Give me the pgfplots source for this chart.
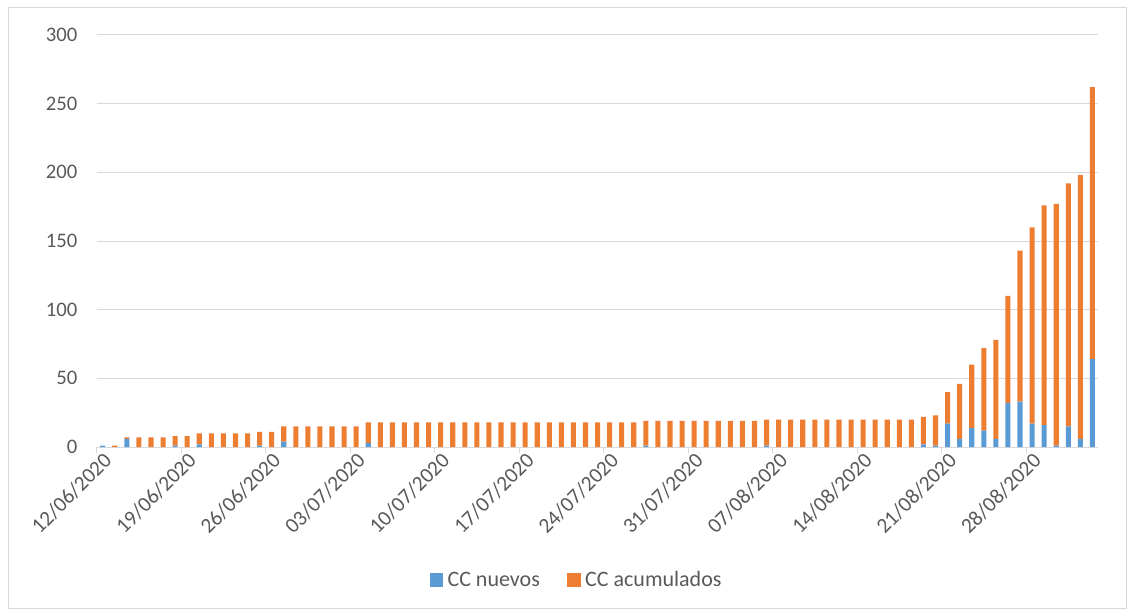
\documentclass[border=0pt]{standalone}
\usepackage{fontspec}
\setmainfont{Carlito}
\usepackage{pgfplots}
\pgfplotsset{compat=1.18}
\usepackage{pgfplotstable}
\definecolor{cblue}{HTML}{5B9BD5}
\definecolor{corange}{HTML}{ED7D31}
\definecolor{cgrid}{HTML}{D9D9D9}
\definecolor{ctext}{HTML}{595959}

\pgfplotstableread{
d n a
0 1 0
1 0 1
2 6 1
3 0 7
4 0 7
5 0 7
6 1 7
7 0 8
8 2 8
9 0 10
10 0 10
11 0 10
12 0 10
13 1 10
14 0 11
15 4 11
16 0 15
17 0 15
18 0 15
19 0 15
20 0 15
21 0 15
22 3 15
23 0 18
24 0 18
25 0 18
26 0 18
27 0 18
28 0 18
29 0 18
30 0 18
31 0 18
32 0 18
33 0 18
34 0 18
35 0 18
36 0 18
37 0 18
38 0 18
39 0 18
40 0 18
41 0 18
42 0 18
43 0 18
44 0 18
45 1 18
46 0 19
47 0 19
48 0 19
49 0 19
50 0 19
51 0 19
52 0 19
53 0 19
54 0 19
55 1 19
56 0 20
57 0 20
58 0 20
59 0 20
60 0 20
61 0 20
62 0 20
63 0 20
64 0 20
65 0 20
66 0 20
67 0 20
68 2 20
69 1 22
70 17 23
71 6 40
72 14 46
73 12 60
74 6 72
75 32 78
76 33 110
77 17 143
78 16 160
79 1 176
80 15 177
81 6 192
82 64 198
}\data

\begin{document}
\color{ctext}
\begin{tikzpicture}[font=\fontsize{15.5pt}{18pt}\selectfont]
\useasboundingbox (0,0) rectangle (850.5pt,-462pt);
\draw[cgrid, line width=0.75pt] (6pt,-6pt) rectangle (844.5pt,-456pt);
\begin{axis}[
  at={(72.5pt,-335.25pt)}, anchor=south west,
  scale only axis, width=751.35pt, height=309pt,
  xmin=-0.5, xmax=82.5, ymin=0, ymax=300,
  ybar stacked, bar width=0.42,
  axis x line*=bottom, axis y line*=left,
  x axis line style={cgrid, line width=0.75pt, -},
  y axis line style={draw=none},
  ytick={0,50,...,300},
  ymajorgrids, grid style={cgrid, line width=0.75pt},
  /pgf/number format/assume math mode=true,
  yticklabel style={anchor=east, xshift=-11pt},
  major tick length=0pt,
  tick style={cgrid, line width=0.75pt},
  tick align=outside,
  xtick={0,7,...,77},
  xticklabels={12/06/2020,19/06/2020,26/06/2020,03/07/2020,10/07/2020,17/07/2020,24/07/2020,31/07/2020,07/08/2020,14/08/2020,21/08/2020,28/08/2020},
  xticklabel style={rotate=45, anchor=east, yshift=-8pt, xshift=1pt, font=\fontsize{16pt}{18pt}\selectfont},
  extra x ticks={-0.5,6.5,...,76.5},
  extra x tick labels={},
  extra x tick style={major tick length=4.5pt, grid=none},
  legend style={at={(0.479,-0.323)}, anchor=center, draw=none, fill=none,
    font=\fontsize{16.5pt}{19pt}\selectfont,
    nodes={inner xsep=1.5pt},
    legend columns=2,
    /tikz/every odd column/.append style={column sep=2pt},
    /tikz/every even column/.append style={column sep=19pt}},
  legend image code/.code={\fill[#1] (0pt,-5pt) rectangle (10pt,5pt);},
]
\addplot[fill=cblue, draw=none] table[x=d,y=n]{\data};
\addplot[fill=corange, draw=none] table[x=d,y=a]{\data};
\legend{CC nuevos, CC acumulados}
\end{axis}
\end{tikzpicture}
\end{document}
